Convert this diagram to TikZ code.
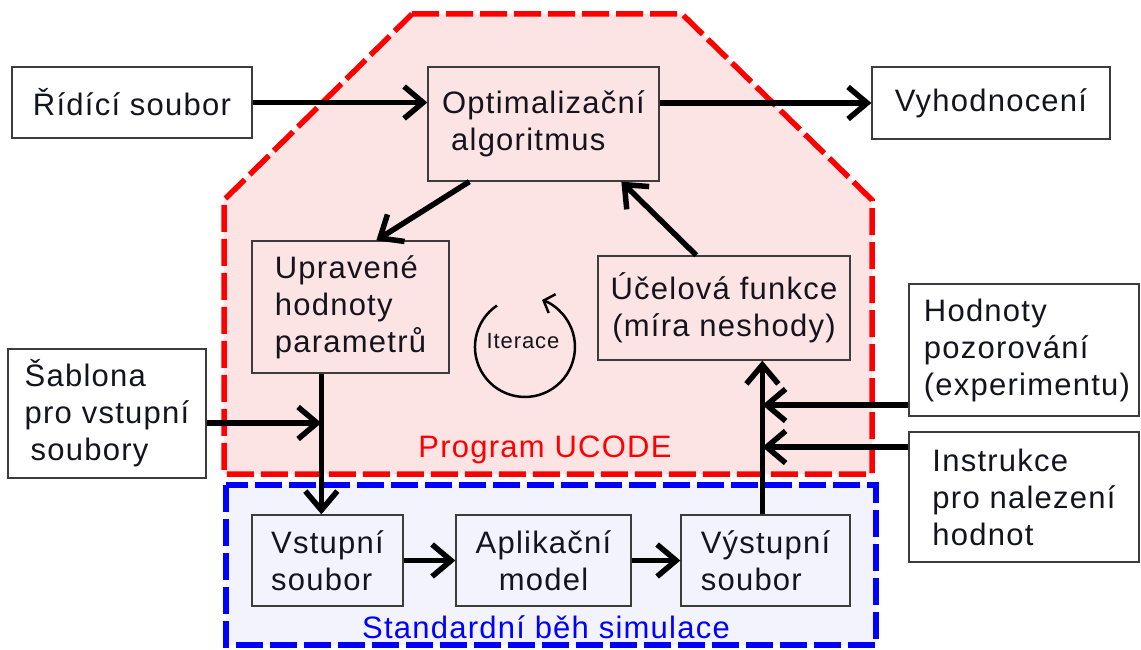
\documentclass[tikz,border=0pt]{standalone}
\usepackage{fontspec}
\setmainfont{Liberation Sans}[LetterSpace=4]
\usetikzlibrary{arrows.meta,calc}
\definecolor{pinkfill}{RGB}{253,228,228}
\definecolor{bluefill}{RGB}{243,243,253}
\definecolor{boxline}{RGB}{60,60,60}
\definecolor{txt}{RGB}{20,20,30}
\newcommand\bigtext{\fontsize{31}{37}\selectfont}
\newcommand\smalltext{\fontsize{22}{26}\selectfont}
\begin{document}
\begin{tikzpicture}[x=1pt,y=-1pt,
  box/.style={draw=boxline, line width=1.3pt, inner sep=0pt, align=left, text=txt, font=\bigtext},
  arr/.style={line width=5.5pt, -{Straight Barb[length=19pt,width=32pt]}},
  thinarr/.style={line width=2.5pt, -{Straight Barb[length=9pt,width=20pt]}},
  region/.style={line width=5.5pt, dash pattern=on 27pt off 7pt},
  label/.style={font=\bigtext, inner sep=0pt, anchor=base}]
\useasboundingbox (0,0) rectangle (1141,650);
% regions
\draw[region, draw=red, fill=pinkfill] (412,14) -- (682,14) -- (872,200) -- (872,474) -- (224,474) -- (224,200) -- cycle;
\draw[region, draw=blue, fill=bluefill] (226,485) rectangle (876,645);
\node[label, text=red] (ucode) at (545,457) {Program UCODE};
\node[label, text=blue] (sim) at (546,638) {Standardní běh simulace};
% boxes
\node[box, fill=white, minimum width=240, minimum height=71] (ridici) at (132,102.5) {Řídící soubor};
\node[box, minimum width=231, minimum height=114] (opt) at (543.5,124) {Optimalizační\\\hspace*{9pt}algoritmus};
\node[box, fill=white, minimum width=238, minimum height=72] (vyh) at (991,103) {Vyhodnocení};
\node[box, minimum width=197, minimum height=132] (upr) at (350.5,307) {Upravené\\hodnoty\\parametrů};
\node[box, align=center, minimum width=252, minimum height=104] (ucel) at (724,308) {Účelová funkce\\(míra neshody)};
\node[box, fill=white, minimum width=230, minimum height=132] (hod) at (1024,350) {\hspace*{6pt}Hodnoty\\\hspace*{6pt}pozorování\\\hspace*{6pt}(experimentu)};
\node[box, fill=white, minimum width=230, minimum height=130] (ins) at (1024,497) {Instrukce\\pro nalezení\\hodnot};
\node[box, fill=white, minimum width=198, minimum height=129] (sab) at (107,413.5) {Šablona\\pro vstupní\\\hspace*{6pt}soubory};
\node[box, minimum width=151, minimum height=91] (vst) at (327.5,560.5) {Vstupní\\soubor};
\node[box, align=center, minimum width=175, minimum height=91] (apl) at (543.5,560.5) {Aplikační\\model};
\node[box, minimum width=169, minimum height=91] (vys) at (765.5,560.5) {Výstupní\\soubor};
% iteration
\node[inner sep=0pt, font=\smalltext, text=txt] (iter) at (523,341) {Iterace};
\draw[thinarr] (497,305.5) arc[start angle=-124, end angle=-430, radius=50];
% connectors
\draw[arr] (ridici.east) -- (ridici.east -| opt.west);
\draw[arr] (vyh.west -| opt.east) -- (vyh.west);
\draw[arr] ($(opt.south west)+(42,0)$) -- ($(upr.north west)+(125,0)$);
\draw[arr] ($(ucel.north west)+(99,0)$) -- ($(opt.south west)+(194,0)$);
\draw[arr] ($(upr.south west)+(70,0)$) coordinate (u1) -- (u1 |- vst.north);
\draw[arr] ($(sab.east)+(0,9.5)$) coordinate (s1) -- (s1 -| u1);
\draw[arr] (vst.east) -- (apl.west);
\draw[arr] (apl.east) -- (vys.west);
\draw[arr] ($(vys.north west)+(82,0)$) coordinate (v1) -- (v1 |- ucel.south);
\draw[arr] ($(hod.west)+(0,55)$) coordinate (h1) -- (h1 -| v1);
\draw[arr] ($(ins.west)+(0,-50)$) coordinate (i1) -- (i1 -| v1);
\end{tikzpicture}
\end{document}
